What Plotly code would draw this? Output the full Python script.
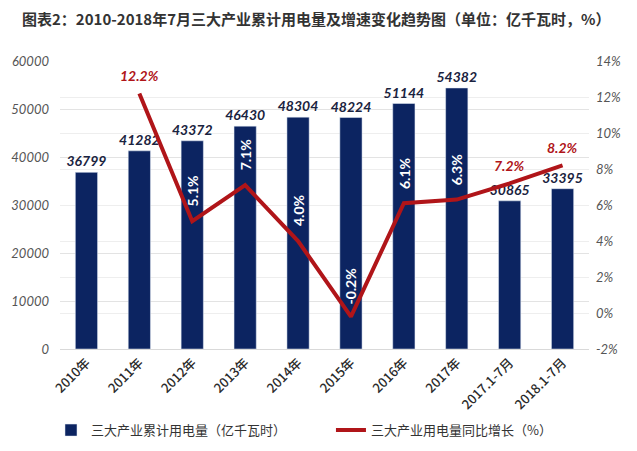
import plotly.graph_objects as go

categories = ["2010年", "2011年", "2012年", "2013年", "2014年", "2015年", "2016年", "2017年", "2017.1-7月", "2018.1-7月"]
consumption = [36799, 41282, 43372, 46430, 48304, 48224, 51144, 54382, 30865, 33395]
growth = [None, 12.2, 5.1, 7.1, 4.0, -0.2, 6.1, 6.3, 7.2, 8.2]
growth_label_style = ["", "red", "white", "white", "white", "white", "white", "white", "red", "red"]
left_ticks = [0, 10000, 20000, 30000, 40000, 50000, 60000]
right_ticks = [-2, 0, 2, 4, 6, 8, 10, 12, 14]
right_tick_text = ["-2%", "0%", "2%", "4%", "6%", "8%", "10%", "12%", "14%"]

NAVY = "#0c2461"
RED = "#b01519"
num_font = "Lato"

fig = go.Figure()
fig.add_trace(go.Bar(
    x=categories, y=consumption, name="三大产业累计用电量（亿千瓦时）",
    marker_color=NAVY, width=0.42, legend="legend",
    text=[str(v) for v in consumption], textposition="outside", constraintext="none",
    textfont=dict(family=num_font, size=14, color="#1a2340", weight="bold", style="italic"),
    cliponaxis=False,
))
fig.add_trace(go.Scatter(
    x=categories, y=growth, name="三大产业用电量同比增长（%）", yaxis="y2", legend="legend2",
    mode="lines", line=dict(color=RED, width=4), connectgaps=False,
))

annotations = []
for c, g, s in zip(categories, growth, growth_label_style):
    if g is None:
        continue
    txt = f"{g:.1f}%"
    if s == "red":
        annotations.append(dict(x=c, y=g, xref="x", yref="y2", text=txt, showarrow=False,
                                yshift=18,
                                font=dict(family=num_font, size=14, color=RED, weight="bold", style="italic")))
    else:
        annotations.append(dict(x=c, y=g, xref="x", yref="y2", text=txt, showarrow=False,
                                textangle=-90, yshift=30,
                                font=dict(family=num_font, size=14, color="white", weight="bold")))

legend_font = dict(family="Noto Sans CJK SC", size=13, color="#333333")

fig.update_layout(
    width=637, height=451,
    margin=dict(l=52, r=56, t=53, b=110, autoexpand=False),
    paper_bgcolor="white", plot_bgcolor="white",
    title=dict(text="图表2：2010-2018年7月三大产业累计用电量及增速变化趋势图（单位：亿千瓦时，%）",
               x=0.022, xanchor="left", xref="container", y=0.973, yanchor="middle", yref="container",
               font=dict(family="Noto Sans CJK SC", size=15, color="#333333", weight="bold")),
    showlegend=True,
    legend=dict(orientation="h", x=0.0675, y=0.064, xref="container", yref="container",
                xanchor="left", yanchor="middle", itemwidth=30, font=legend_font),
    legend2=dict(orientation="h", x=0.507, y=0.064, xref="container", yref="container",
                 xanchor="left", yanchor="middle", itemwidth=30, font=legend_font),
    xaxis=dict(tickangle=-45, tickfont=dict(family="Noto Sans CJK SC", size=13, color="#2a2a2a", weight=500),
               showgrid=False, showline=True, linecolor="#d9d9d9", ticks="", automargin=False),
    yaxis=dict(range=[0, 60000], tickvals=left_ticks, tickformat="d", showgrid=True, gridcolor="#e3e3e3",
               tickfont=dict(family=num_font, size=13, color="#555555", style="italic"),
               ticklabelstandoff=10, zeroline=False, ticks="", automargin=False),
    yaxis2=dict(range=[-2, 14], tickvals=right_ticks, ticktext=right_tick_text, overlaying="y", side="right",
                showgrid=True, gridcolor="#eeeeee", zeroline=False, automargin=False,
                ticklabelstandoff=6,
                tickfont=dict(family=num_font, size=13, color="#555555", style="italic")),
    annotations=annotations,
)

fig.write_html("out.html")
